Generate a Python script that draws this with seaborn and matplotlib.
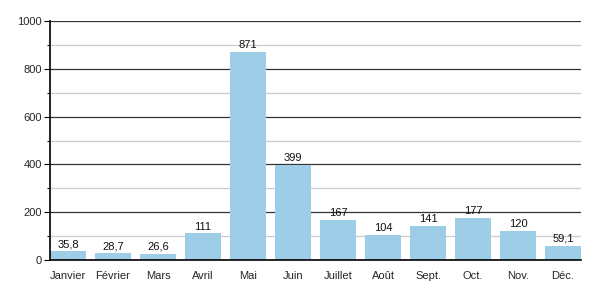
import matplotlib
matplotlib.use("Agg")
import matplotlib.pyplot as plt
import seaborn as sns
import pandas as pd
from matplotlib.ticker import MultipleLocator

months = ["Janvier", "Février", "Mars", "Avril", "Mai", "Juin", "Juillet",
          "Août", "Sept.", "Oct.", "Nov.", "Déc."]
values = [35.8, 28.7, 26.6, 111, 871, 399, 167, 104, 141, 177, 120, 59.1]
labels = ["35,8", "28,7", "26,6", "111", "871", "399", "167", "104", "141",
          "177", "120", "59,1"]

sns.set_theme(style="white")
plt.rcParams['font.family'] = ['Liberation Sans', 'DejaVu Sans']

df = pd.DataFrame({"mois": months, "val": values})

fig = plt.figure(figsize=(6, 3), dpi=100)
ax = fig.add_axes([50/600, 1-260/300, 531/600, 239/300])

sns.barplot(data=df, x="mois", y="val", color="#9ecde8", saturation=1,
            width=0.8, ax=ax, zorder=3, linewidth=0)

ax.set_xlim(-0.4, 11.4)
ax.set_ylim(0, 1000)
ax.yaxis.set_major_locator(MultipleLocator(200))
ax.yaxis.set_minor_locator(MultipleLocator(100))
ax.grid(which="major", axis="y", color="#333333", linewidth=0.9, zorder=1)
ax.grid(which="minor", axis="y", color="#cccccc", linewidth=0.9, zorder=1)
ax.set_axisbelow(True)

for s in ["top", "right"]:
    ax.spines[s].set_visible(False)
for s in ["left", "bottom"]:
    ax.spines[s].set_color("black")
    ax.spines[s].set_linewidth(1.2)
    ax.spines[s].set_zorder(5)

ax.tick_params(axis="y", which="major", left=True, length=4, width=0.8,
               color="black", labelsize=8, pad=2)
ax.tick_params(axis="y", which="minor", left=True, length=2, width=0.8,
               color="black")
ax.tick_params(axis="x", bottom=False, labelsize=8, pad=2)
ax.set_xlabel("")
ax.set_ylabel("")

for i, (v, t) in enumerate(zip(values, labels)):
    ax.text(i, v + 8, t, ha="center", va="bottom", fontsize=8, color="#111111",
            zorder=6)

fig.savefig("out.png", dpi=100)
